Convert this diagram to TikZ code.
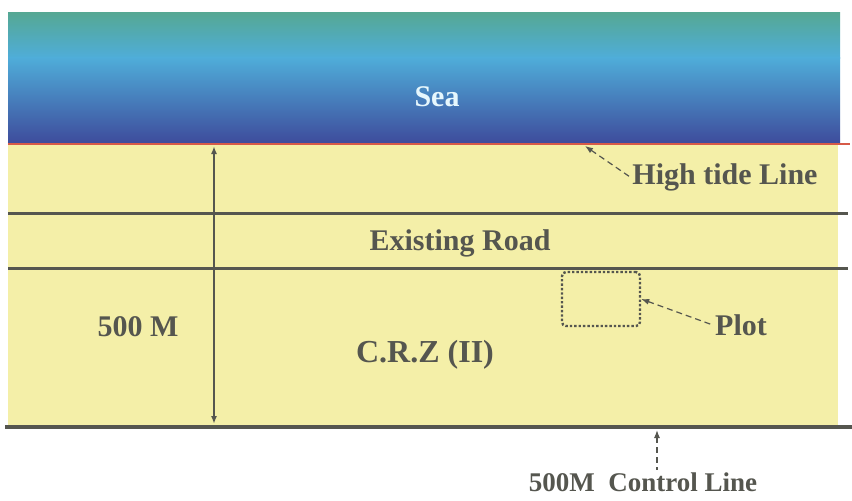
\documentclass[tikz,border=0pt]{standalone}
\usepackage{fontspec}
\setmainfont{Liberation Serif}
\usetikzlibrary{arrows.meta,positioning,calc}
\definecolor{seatop}{HTML}{55A893}
\definecolor{seamid}{HTML}{4FADD9}
\definecolor{seabot}{HTML}{3E4C9C}
\definecolor{landyel}{HTML}{F4EFA8}
\definecolor{inkgray}{HTML}{55564F}
\definecolor{tidered}{HTML}{D65A48}
\tikzset{
  lbl/.style={font=\fontsize{15}{18}\selectfont\bfseries,text=inkgray,inner sep=1pt},
  bound/.style={draw=inkgray,line width=#1},
  bound/.default={1.5pt},
  lead/.style={{Latex[length=4pt,width=3pt]}-,draw=inkgray,line width=0.6pt,densely dashed},
  dim/.style={{Latex[length=4pt,width=3pt]}-{Latex[length=4pt,width=3pt]},draw=inkgray,line width=0.8pt},
  plotbox/.style={draw=inkgray,densely dotted,line width=1.2pt,rounded corners=2pt,
    minimum width=39pt,minimum height=27pt,inner sep=0pt},
}
\begin{document}
\begin{tikzpicture}[x=0.5pt,y=-0.5pt]
  \useasboundingbox (0,0) rectangle (852,500);
  \fill[white] (0,0) rectangle (852,500);
  % sea and land
  \shade[top color=seatop,bottom color=seamid] (8,12) rectangle (840,58);
  \shade[top color=seamid,bottom color=seabot] (8,57.5) rectangle (840,143);
  \fill[landyel] (8,143) rectangle (838,425);
  \coordinate (tideW) at (8,144);
  \coordinate (tideE) at (850,144);
  \coordinate (rdtopW) at (8,213);
  \coordinate (rdtopE) at (848,213);
  \coordinate (rdbotW) at (8,268);
  \coordinate (rdbotE) at (848,268);
  \coordinate (ctlW) at (5,427);
  \coordinate (ctlE) at (852,427);
  \draw[tidered,line width=1pt] (tideW) -- (tideE);
  \draw[bound] (rdtopW) -- (rdtopE);
  \draw[bound] (rdbotW) -- (rdbotE);
  \draw[bound=2pt] (ctlW) -- (ctlE);
  % labels
  \node[lbl,text=white!90!cyan] (sea) at (437,97) {Sea};
  \node[lbl] (htl) at (725,177) {High tide Line};
  \node[lbl] (road) at (460,243) {Existing Road};
  \node[lbl] (dist) at (138,327) {500 M};
  \node[lbl,font=\fontsize{16}{19}\selectfont\bfseries] (crz) at (425,355) {C.R.Z (II)};
  \node[plotbox] (plot) at (601,299) {};
  \node[lbl] (plotlbl) at (741,325) {Plot};
  \node[lbl,font=\fontsize{13.5}{16}\selectfont\bfseries] (ctl) at (643,482) {500M\ \ Control Line};
  % leaders and dimension
  \coordinate (tidept) at (585,146);
  \coordinate (ctlpt) at (657,430);
  \coordinate (dimtop) at (214,146);
  \coordinate (dimbot) at (214,424);
  \draw[lead] (tidept) -- (htl.west);
  \draw[lead] (plot.east) -- (plotlbl.west);
  \draw[lead] (ctlpt) -- (ctlpt |- ctl.north);
  \draw[dim] (dimtop) -- (dimbot);
\end{tikzpicture}
\end{document}
